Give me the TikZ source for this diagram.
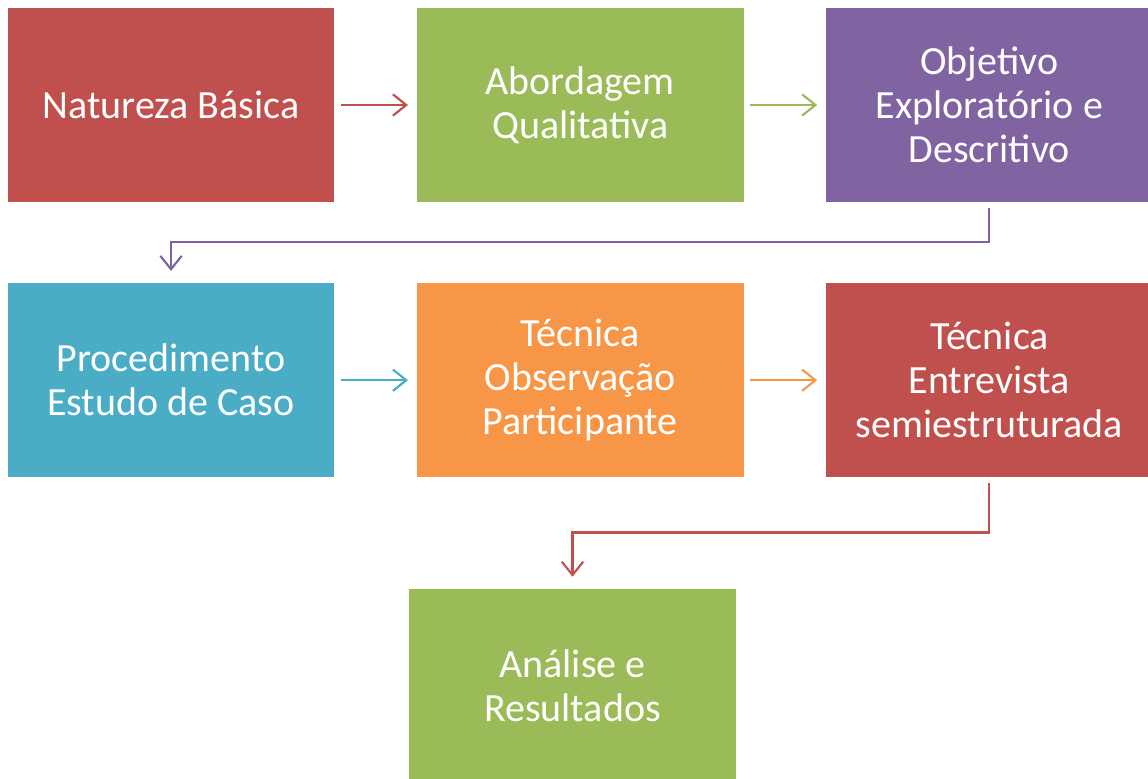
\documentclass[tikz,border=0pt]{standalone}
\usepackage{fontspec}
\setmainfont{Carlito}
\usetikzlibrary{positioning, arrows.meta}

\definecolor{boxred}{HTML}{C0504D}
\definecolor{boxgreen}{HTML}{9BBB59}
\definecolor{boxpurple}{HTML}{8064A2}
\definecolor{boxaqua}{HTML}{4BACC6}
\definecolor{boxorange}{HTML}{F79646}

\tikzset{
    stage/.style={minimum width=245pt, minimum height=145.5pt, inner sep=0pt,
        align=center, text=white, font=\fontsize{30}{33}\selectfont},
    flow/.style={line width=1.6pt, -{Straight Barb[length=10pt, width=16pt, line width=1.6pt]},
        shorten <=4.5pt, shorten >=6.5pt},
    elbowflow/.style={flow, shorten >=9pt}
}

\begin{document}
\begin{tikzpicture}[x=0.75pt, y=-0.75pt, node distance=60.5pt and 61.5pt]
    \clip (0,0) rectangle (1148,778);
    \fill[white] (0,0) rectangle (1148,778);

    \node[stage, fill=boxred] (natureza) at (171,105) {Natureza Básica};
    \node[stage, fill=boxgreen, right=of natureza] (abordagem) {Abordagem\\Qualitativa};
    \node[stage, fill=boxpurple, right=of abordagem] (objetivo) {Objetivo\\Exploratório e\\Descritivo};

    \node[stage, fill=boxaqua, below=of natureza] (estudo) {Procedimento\\Estudo de Caso};
    \node[stage, fill=boxorange, right=of estudo] (observacao) {Técnica\\Observação\\Participante};
    \node[stage, fill=boxred, right=of observacao] (entrevista) {Técnica\\Entrevista\\semiestruturada};

    \node[stage, fill=boxgreen] (analise) at (572.5,686) {Análise e\\Resultados};

    \draw[flow, boxred] (natureza) -- (abordagem);
    \draw[flow, boxgreen] (abordagem) -- (objetivo);
    \draw[elbowflow, boxpurple] (objetivo.south) -- ++(0,40) -| (estudo.north);

    \draw[flow, boxaqua] (estudo) -- (observacao);
    \draw[flow, boxorange] (observacao) -- (entrevista);
    \draw[elbowflow, boxred] (entrevista.south) -- ++(0,55) -| (analise.north);
\end{tikzpicture}
\end{document}
